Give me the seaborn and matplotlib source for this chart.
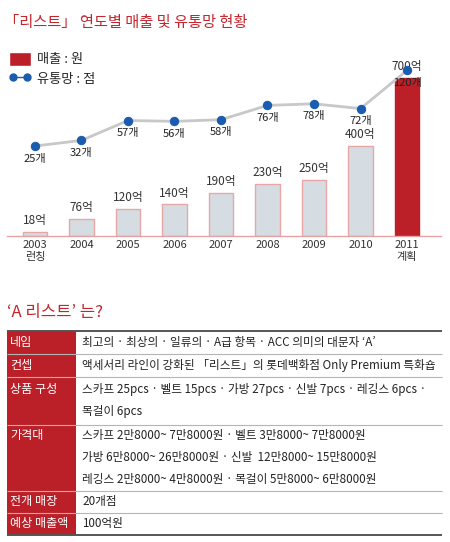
import numpy as np
import pandas as pd
import matplotlib.pyplot as plt
import seaborn as sns
from matplotlib.patches import Patch, Rectangle
from matplotlib.lines import Line2D

# chart data
years = ["2003\n런칭", "2004", "2005", "2006", "2007", "2008", "2009", "2010", "2011\n계획"]
sales = [18, 76, 120, 140, 190, 230, 250, 400, 700]  # 억원
stores = [25, 32, 57, 56, 58, 76, 78, 72, 120]  # 개

# table data
table_heads = ["네임", "컨셉", "상품 구성", "가격대", "전개 매장", "예상 매출액"]
table_rows = [
    ["최고의 · 최상의 · 일류의 · A급 항목 · ACC 의미의 대문자 ‘A’"],
    ["액세서리 라인이 강화된 「리스트」의 롯데백화점 Only Premium 특화숍"],
    ["스카프 25pcs · 벨트 15pcs · 가방 27pcs · 신발 7pcs · 레깅스 6pcs ·",
     "목걸이 6pcs"],
    ["스카프 2만8000~ 7만8000원 · 벨트 3만8000~ 7만8000원",
     "가방 6만8000~ 26만8000원 · 신발  12만8000~ 15만8000원",
     "레깅스 2만8000~ 4만8000원 · 목걸이 5만8000~ 6만8000원"],
    ["20개점"],
    ["100억원"],
]

RED = "#bb1f28"
TITLE_RED = "#c4262e"
BLUE = "#1a5cb0"

sns.set_style("white")
plt.rcParams["font.family"] = ["Noto Sans CJK KR", "DejaVu Sans"]

W, H = 450, 542
fig = plt.figure(figsize=(W / 100, H / 100), dpi=100)


def fx(px):
    return px / W


def fy(py):
    return 1 - py / H


# --- bar + line chart ---
ax = fig.add_axes([fx(7), fy(236), (441 - 7) / W, (236 - 60) / H])
df = pd.DataFrame({"year": years, "sales": sales, "stores": stores})
bar_colors = ["#d5dde3"] * (len(years) - 1) + [RED]
sns.barplot(data=df, x="year", y="sales", hue="year", palette=bar_colors,
            legend=False, width=0.52, saturation=1, ax=ax)
edge_colors = ["#e8a6a6"] * (len(years) - 1) + [RED]
for patch, ec in zip(ax.patches, edge_colors):
    patch.set_edgecolor(ec)
    patch.set_linewidth(1)

for i, v in enumerate(sales):
    ax.annotate(f"{v}억", (i, v), xytext=(0, 3.5), textcoords="offset points",
                ha="center", va="bottom", fontsize=8.5, color="#333333")

ax.set_ylim(0, 780)
ax.set_xlim(-0.6, 8.73)
ax.set_xlabel("")
ax.set_ylabel("")
ax.set_yticks([])
for s in ["left", "top", "right"]:
    ax.spines[s].set_visible(False)
ax.spines["bottom"].set_color("#e6a3a3")
ax.spines["bottom"].set_linewidth(1)
ax.tick_params(axis="x", length=0, pad=3, labelsize=8, labelcolor="#333333")
ax.patch.set_visible(False)

ax2 = ax.twinx()
sns.lineplot(x=np.arange(len(stores)), y=stores, ax=ax2, color="#c8c8c8", lw=2,
             marker="o", markersize=6, markerfacecolor=BLUE, markeredgecolor=BLUE)
for i, v in enumerate(stores):
    ax2.annotate(f"{v}개", (i, v), xytext=(0, -9), textcoords="offset points",
                 ha="center", va="center", fontsize=8, color="#222222")
ax2.set_ylim(-88, 133)
ax2.set_xlim(-0.6, 8.73)
ax2.set_yticks([])
ax2.set_ylabel("")
for s in ax2.spines.values():
    s.set_visible(False)

handles = [
    Patch(facecolor=RED, label="매출 : 원"),
    Line2D([], [], color=BLUE, lw=1, marker="o", markersize=5, label="유통망 : 점"),
]
fig.legend(handles=handles, loc="upper left", bbox_to_anchor=(fx(9), fy(52)),
           frameon=False, fontsize=9.5, handlelength=1.7, handleheight=1.2,
           labelspacing=0.4, handletextpad=0.4, borderpad=0, borderaxespad=0,
           numpoints=2)

fig.text(fx(4), fy(23), "「리스트」 연도별 매출 및 유통망 현황", fontsize=11,
         color=TITLE_RED, ha="left", va="center")

# --- info table ---
fig.text(fx(7), fy(313), "‘A 리스트’ 는?", fontsize=12, color=TITLE_RED,
         ha="left", va="center")

tab = fig.add_axes([0, 0, 1, 1])
tab.set_xlim(0, W)
tab.set_ylim(H, 0)
tab.set_axis_off()

row_edges = [331, 354, 377, 425, 491, 513, 535]
tab.add_patch(Rectangle((7, row_edges[0]), 69, row_edges[-1] - row_edges[0],
                        facecolor=RED, edgecolor="none"))
tab.hlines(row_edges[1:-1], 7, 442, color="#b5b5b5", lw=0.8)
tab.hlines([row_edges[0], row_edges[-1]], 7, 442, color="#555555", lw=1.4)

for i, (head, lines) in enumerate(zip(table_heads, table_rows)):
    top, bottom = row_edges[i], row_edges[i + 1]
    mid = (top + bottom) / 2
    n = len(lines)
    first = mid - (n - 1) / 2 * 22
    tab.text(10, first, head, color="white", fontsize=8.7, ha="left", va="center")
    for j, line in enumerate(lines):
        tab.text(82, first + 22 * j, line, color="#222222", fontsize=8.4,
                 ha="left", va="center")

fig.savefig("out.png", dpi=100)
